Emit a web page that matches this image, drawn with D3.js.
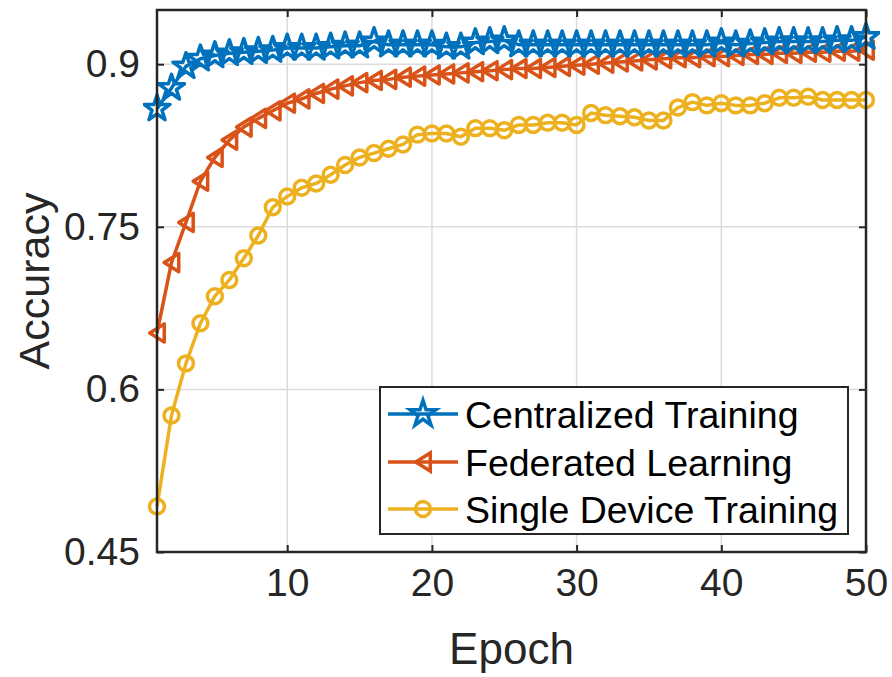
<!DOCTYPE html>
<html>
<head>
<meta charset="utf-8">
<script src="https://cdn.jsdelivr.net/npm/d3@7"></script>
<style>
  html, body { margin: 0; padding: 0; background: #fff; }
  svg { display: block; font-family: "Liberation Sans", Arial, Helvetica, sans-serif; }
</style>
</head>
<body>
<svg id="chart" width="892" height="677"></svg>
<script>
// Epochs 1..50
const epochs = d3.range(1, 51);

const centralized = [
  0.859, 0.878, 0.898, 0.905, 0.908, 0.910, 0.911, 0.912, 0.913, 0.915,
  0.915, 0.915, 0.916, 0.917, 0.917, 0.921, 0.918, 0.918, 0.918, 0.918,
  0.916, 0.916, 0.920, 0.921, 0.922, 0.918, 0.918, 0.918, 0.918, 0.918,
  0.918, 0.918, 0.918, 0.918, 0.918, 0.918, 0.918, 0.918, 0.918, 0.920,
  0.918, 0.919, 0.920, 0.921, 0.921, 0.921, 0.921, 0.922, 0.922, 0.925
];

const federated = [
  0.652, 0.717, 0.754, 0.792, 0.814, 0.830, 0.842, 0.850, 0.857, 0.864,
  0.868, 0.873, 0.877, 0.880, 0.883, 0.885, 0.886, 0.888, 0.889, 0.890,
  0.891, 0.892, 0.893, 0.894, 0.895, 0.896, 0.896, 0.897, 0.898, 0.899,
  0.900, 0.901, 0.902, 0.903, 0.904, 0.905, 0.906, 0.906, 0.907, 0.907,
  0.908, 0.909, 0.909, 0.910, 0.910, 0.911, 0.911, 0.912, 0.912, 0.913
];

const singleDevice = [
  0.492, 0.576, 0.624, 0.661, 0.686, 0.701, 0.721, 0.742, 0.768, 0.778,
  0.786, 0.790, 0.798, 0.807, 0.814, 0.818, 0.822, 0.826, 0.835, 0.836,
  0.836, 0.833, 0.841, 0.841, 0.839, 0.844, 0.844, 0.846, 0.846, 0.844,
  0.855, 0.853, 0.852, 0.851, 0.848, 0.848, 0.860, 0.865, 0.862, 0.864,
  0.862, 0.862, 0.864, 0.869, 0.869, 0.870, 0.867, 0.867, 0.867, 0.867
];

const seriesNames = ["Centralized Training", "Federated Learning", "Single Device Training"];
const seriesColors = ["#0072BD", "#D95319", "#EDB120"];
const seriesMarkers = ["star", "triangleLeft", "circle"];

const xTicks = [10, 20, 30, 40, 50];
const yTicks = [0.45, 0.6, 0.75, 0.9];

const xLabel = "Epoch";
const yLabel = "Accuracy";

// ---- layout ----
const svg = d3.select("#chart");
const plot = { left: 157, right: 866, top: 10, bottom: 552 };

const x = d3.scaleLinear().domain([1, 50]).range([plot.left, plot.right]);
const y = d3.scaleLinear().domain([0.45, 0.95]).range([plot.bottom, plot.top]);

// grid lines
const grid = svg.append("g");
grid.selectAll("line.gx").data(xTicks).join("line")
  .attr("x1", d => x(d)).attr("x2", d => x(d))
  .attr("y1", plot.top).attr("y2", plot.bottom)
  .attr("stroke", "#dcdcdc").attr("stroke-width", 1.5);
grid.selectAll("line.gy").data(yTicks).join("line")
  .attr("x1", plot.left).attr("x2", plot.right)
  .attr("y1", d => y(d)).attr("y2", d => y(d))
  .attr("stroke", "#dcdcdc").attr("stroke-width", 1.5);

// axes (ticks inward, on all four sides)
const tickLen = 7;
const tickFont = 39;
const axBottom = svg.append("g").attr("transform", `translate(0,${plot.bottom})`)
  .call(d3.axisBottom(x).tickValues(xTicks).tickSizeInner(-tickLen).tickSizeOuter(0).tickPadding(16).tickFormat(d3.format("d")));
const axLeft = svg.append("g").attr("transform", `translate(${plot.left},0)`)
  .call(d3.axisLeft(y).tickValues(yTicks).tickSizeInner(-tickLen).tickSizeOuter(0).tickPadding(17).tickFormat(d => String(+d.toFixed(2))));
const axTop = svg.append("g").attr("transform", `translate(0,${plot.top})`)
  .call(d3.axisTop(x).tickValues(xTicks).tickSizeInner(-tickLen).tickSizeOuter(0).tickFormat(""));
const axRight = svg.append("g").attr("transform", `translate(${plot.right},0)`)
  .call(d3.axisRight(y).tickValues(yTicks).tickSizeInner(-tickLen).tickSizeOuter(0).tickFormat(""));

[axBottom, axLeft, axTop, axRight].forEach(ax => {
  ax.select(".domain").remove();
  ax.selectAll(".tick line").attr("stroke", "#262626").attr("stroke-width", 2);
  ax.selectAll(".tick text").attr("fill", "#262626").attr("font-size", tickFont)
    .attr("font-family", "Liberation Sans, Arial, sans-serif");
});

// axis labels
svg.append("text").attr("x", (plot.left + plot.right) / 2).attr("y", 664)
  .attr("text-anchor", "middle").attr("font-size", 44).attr("fill", "#262626").text(xLabel);
svg.append("text").attr("transform", `translate(49,${(plot.top + plot.bottom) / 2}) rotate(-90)`)
  .attr("text-anchor", "middle").attr("font-size", 43).attr("fill", "#262626").text(yLabel);

// markers
const triangleLeft = {
  draw(ctx, size) {
    const r = Math.sqrt(size) / 2;
    ctx.moveTo(-r * 0.8, 0);
    ctx.lineTo(r * 0.8, -r);
    ctx.lineTo(r * 0.8, r);
    ctx.closePath();
  }
};
const markerPath = {
  star: d3.symbol(d3.symbolStar, 210)(),
  triangleLeft: d3.symbol(triangleLeft, 330)(),
  circle: d3.symbol(d3.symbolCircle, 175)()
};

const allSeries = [centralized, federated, singleDevice];
const line = d3.line().x((d, i) => x(epochs[i])).y(d => y(d));
const lw = 3.5;

const clipId = "plotClip";
svg.append("clipPath").attr("id", clipId).append("rect")
  .attr("x", plot.left - 14).attr("y", plot.top - 14)
  .attr("width", plot.right - plot.left + 28).attr("height", plot.bottom - plot.top + 28);

const series = svg.append("g").attr("clip-path", `url(#${clipId})`);
// draw bottom series first so the top curve lies above it
[2, 1, 0].forEach(k => {
  const g = series.append("g");
  g.append("path").datum(allSeries[k]).attr("d", line)
    .attr("fill", "none").attr("stroke", seriesColors[k]).attr("stroke-width", lw)
    .attr("stroke-linejoin", "round");
  g.selectAll("path.m").data(allSeries[k]).join("path").attr("class", "m")
    .attr("d", markerPath[seriesMarkers[k]])
    .attr("transform", (d, i) => `translate(${x(epochs[i])},${y(d)})`)
    .attr("fill", "none").attr("stroke", seriesColors[k]).attr("stroke-width", lw)
    .attr("stroke-linejoin", "round");
});

// box
svg.append("rect").attr("x", plot.left).attr("y", plot.top)
  .attr("width", plot.right - plot.left).attr("height", plot.bottom - plot.top)
  .attr("fill", "none").attr("stroke", "#262626").attr("stroke-width", 2.5);

// legend
const legend = svg.append("g");
legend.append("rect").attr("x", 380).attr("y", 387).attr("width", 468).attr("height", 147)
  .attr("fill", "#fff").attr("stroke", "#262626").attr("stroke-width", 2);
const rowY = [414, 462, 509];
seriesNames.forEach((name, k) => {
  const row = legend.append("g").attr("transform", `translate(0,${rowY[k]})`);
  row.append("line").attr("x1", 388).attr("x2", 458).attr("y1", 0).attr("y2", 0)
    .attr("stroke", seriesColors[k]).attr("stroke-width", lw);
  row.append("path").attr("d", markerPath[seriesMarkers[k]])
    .attr("transform", "translate(423,0)")
    .attr("fill", "none").attr("stroke", seriesColors[k]).attr("stroke-width", lw);
  row.append("text").attr("x", 465).attr("y", 0).attr("dy", "0.36em")
    .attr("font-size", 37.5).attr("fill", "#000").text(name);
});
</script>
</body>
</html>
